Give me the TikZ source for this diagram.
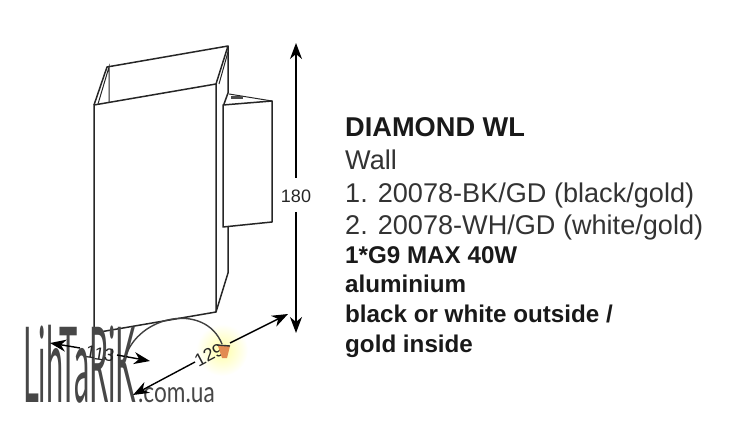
\documentclass[tikz,border=0pt]{standalone}
\usepackage{fontspec}
\setmainfont{Liberation Sans}
\newfontfamily\markfont{Lato}
\usetikzlibrary{arrows.meta}

\definecolor{bulbcolor}{RGB}{226,140,82}

\tikzset{
  body/.style={line width=1.5pt,draw=black!85,line join=round},
  thinbody/.style={line width=1pt,draw=black!85},
  dimline/.style={>={Stealth[length=16pt,width=12pt,inset=5pt]},line width=1.4pt,black},
  dimlabel/.style={inner sep=0pt,font=\fontsize{18}{18}\selectfont,black!85},
  titletext/.style={anchor=base west,inner sep=0pt,font=\fontsize{27.2}{27}\selectfont\bfseries,black!90},
  plaintext/.style={anchor=base west,inner sep=0pt,font=\fontsize{27.1}{27}\selectfont,black!80},
  boldtext/.style={anchor=base west,inner sep=0pt,font=\fontsize{24.2}{24}\selectfont\bfseries,black!90},
  marktext/.style={anchor=base west,inner sep=0pt,black!72},
}

\begin{document}
\begin{tikzpicture}[x=1pt,y=-1pt]

  \useasboundingbox (0,0) rectangle (746,427);

  % lamp glow
  \shade[inner color=yellow!35,outer color=white] (222,350) circle (26);

  % front box
  \coordinate (ftl) at (94,105);
  \coordinate (ftr) at (216,84);
  \coordinate (fbr) at (216,312);
  \coordinate (fbl) at (94,333);
  \coordinate (btl) at (107,67);
  \coordinate (btr) at (228,46);
  \draw[body] (fbl) -- (ftl) -- (ftr) -- (fbr) -- cycle;
  \draw[body] (ftl) -- (btl) -- (btr) -- (ftr);
  \draw[thinbody] (98,104) -- (109,67) -- (109,102);
  \draw[thinbody] (219,84) -- (228,52);
  \draw[body] (btr) -- (228,93) -- (224,104);
  \draw[body] (228,227) -- (228,273) -- (fbr);

  % wall plate
  \coordinate (ptl) at (223,105);
  \coordinate (ptr) at (272,101);
  \coordinate (pbr) at (272,222);
  \coordinate (pbl) at (223,227);
  \draw[body] (ptl) -- (ptr) -- (pbr) -- (pbl) -- cycle;
  \draw[thinbody] (229,94) -- (ptr);
  \fill[black!70] (231,96.5) rectangle (243,99);

  % shop mark
  \node[marktext,xscale=.293,font=\markfont\fontsize{105}{105}\selectfont] (markname) at (23,402) {LihTaRiK};
  \node[marktext,xscale=.78,font=\markfont\fontsize{29}{29}\selectfont] (markweb) at (138,402) {.com.ua};

  % dimensions
  \coordinate (hghta) at (296,43);
  \coordinate (hghtb) at (296,333);
  \node[dimlabel] (hghtlabel) at (296,196) {180};
  \draw[dimline,->] (296,178) -- (hghta);
  \draw[dimline,->] (296,212) -- (hghtb);
  \node[dimlabel,rotate=-9] (dptlabel) at (100,354) {113};
  \coordinate (dpta) at (50,343);
  \coordinate (dptb) at (150,361);
  \draw[dimline,->] (80,348) -- (dpta);
  \draw[dimline,->] (117,355) -- (dptb);
  \node[dimlabel,rotate=28] (lenlabel) at (209,355) {129};
  \coordinate (lena) at (133,395);
  \coordinate (lenb) at (288,314);
  \draw[dimline,->] (195,362) -- (lena);
  \draw[dimline,->] (230,343) -- (lenb);

  % cable and bulb
  \coordinate (cablea) at (125,358);
  \coordinate (cableb) at (222,344);
  \draw[line width=1.4pt,black!75] (cablea) .. controls (138,315) and (205,302) .. (cableb);
  \fill[bulbcolor] (218,346) -- (230,346) -- (227,358) -- (222,358) -- cycle;
  \draw[line width=1.4pt,black!80] (217,345) -- (230,346);

  % description
  \node[titletext] (title) at (345,136.5) {DIAMOND WL};
  \node[plaintext] (kind)  at (345,169.5) {Wall};
  \node[plaintext] (itema) at (345,202.5) {1. 20078-BK/GD (black/gold)};
  \node[plaintext] (itemb) at (345,234.5) {2. 20078-WH/GD (white/gold)};
  \node[boldtext]  (lampa) at (345,264) {1*G9 MAX 40W};
  \node[boldtext]  (lampb) at (345,293) {aluminium};
  \node[boldtext]  (lampc) at (345,322) {black or white outside /};
  \node[boldtext]  (lampd) at (345,352) {gold inside};

\end{tikzpicture}
\end{document}
